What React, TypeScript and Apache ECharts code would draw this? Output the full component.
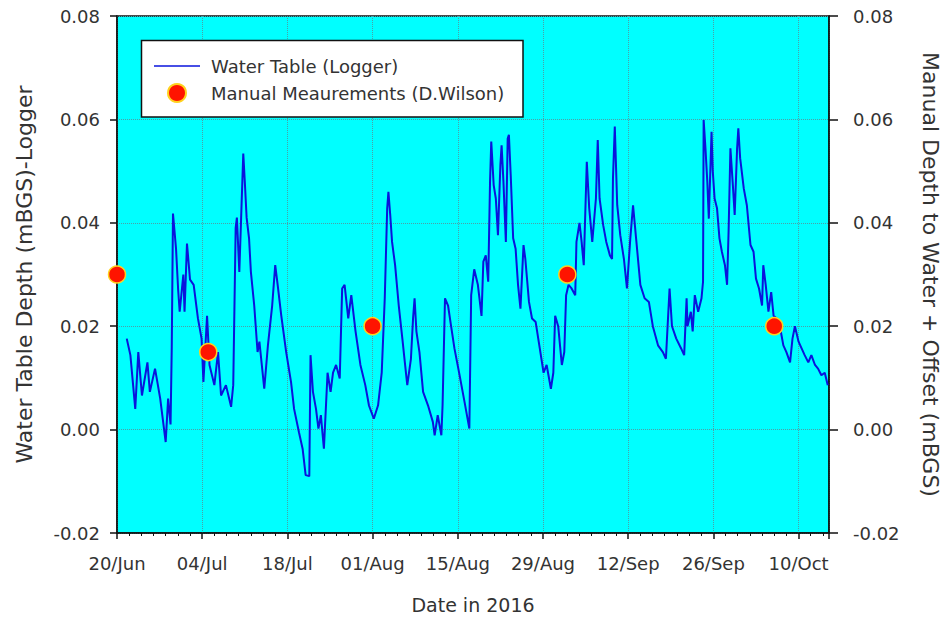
import React, { useEffect, useRef } from "react";
import * as echarts from "echarts";

// Days since 20 June 2016
const loggerDays = [
  1.6, 2.2, 3.0, 3.5, 4.1, 5.0, 5.4, 6.25, 7.1, 8.0, 8.4, 8.8, 9.0, 9.2, 9.7, 10.05, 10.3, 10.9, 11.1, 11.5,
  12.0, 12.6, 13.3, 13.9, 14.2, 14.8, 15.2, 16.0, 16.6, 17.1, 17.9, 18.75, 19.1, 19.5, 19.7, 20.1, 20.4, 20.75, 21.0, 21.3,
  21.7, 22.0, 22.55, 23.1, 23.4, 24.2, 24.8, 25.5, 26.0, 26.4, 27.0, 27.8, 28.6, 29.1, 29.9, 30.5, 31.0, 31.6, 31.8, 32.2,
  32.7, 33.1, 33.5, 34.0, 34.6, 35.1, 35.5, 36.0, 36.6, 37.0, 37.4, 38.0, 38.5, 39.2, 40.0, 40.8, 41.4, 42.2, 42.9, 43.5,
  44.0, 44.4, 44.6, 44.9, 45.2, 45.7, 46.3, 46.9, 47.3, 47.7, 48.3, 48.65, 48.9, 49.2, 49.7, 50.3, 51.1, 51.9, 52.2, 52.7,
  53.3, 53.5, 53.9, 54.4, 54.9, 55.45, 56.3, 57.1, 57.9, 58.2, 58.7, 59.3, 59.9, 60.2, 60.6, 61.0, 61.3, 61.5, 61.9, 62.25,
  62.6, 63.0, 63.2, 63.5, 63.9, 64.2, 64.4, 64.7, 65.1, 65.5, 65.9, 66.3, 66.8, 67.1, 67.7, 68.2, 68.8, 69.3, 70.1, 70.6,
  71.3, 71.7, 72.0, 72.5, 73.1, 73.5, 73.8, 74.2, 74.7, 75.3, 75.5, 76.0, 76.35, 76.7, 77.2, 77.6, 78.1, 78.7, 79.0, 79.3,
  79.9, 80.4, 81.0, 81.35, 81.5, 81.8, 82.2, 82.7, 83.3, 83.8, 84.35, 84.8, 85.3, 86.0, 86.7, 87.4, 88.05, 88.9, 89.7, 90.2,
  90.8, 91.2, 91.9, 92.7, 93.2, 93.6, 93.75, 94.3, 94.6, 94.95, 95.5, 96.05, 96.3, 96.4, 96.7, 97.0, 97.25, 97.7, 97.9, 98.2,
  98.6, 99.0, 99.4, 99.9, 100.25, 100.5, 100.8, 101.2, 101.5, 101.9, 102.1, 102.4, 103.0, 103.5, 104.1, 104.6, 105.0, 105.5, 106.0, 106.2,
  106.6, 107.05, 107.5, 107.9, 108.4, 109.0, 109.5, 110.0, 110.6, 111.0, 111.4, 112.0, 112.5, 113.0, 113.6, 114.1, 114.7, 115.2, 115.75, 116.3,
  116.8,
];

const loggerDepths = [
  0.0176, 0.0144, 0.004, 0.015, 0.0066, 0.013, 0.0073, 0.0118, 0.006, -0.0024, 0.006, 0.001, 0.016, 0.0418, 0.035, 0.027, 0.0228, 0.03, 0.0228, 0.036,
  0.029, 0.028, 0.0215, 0.0176, 0.0092, 0.022, 0.0125, 0.0086, 0.015, 0.0066, 0.0086, 0.0044, 0.0086, 0.039, 0.041, 0.0305, 0.041, 0.0534, 0.048, 0.041,
  0.037, 0.0305, 0.024, 0.015, 0.017, 0.0079, 0.0163, 0.024, 0.0318, 0.028, 0.022, 0.015, 0.0092, 0.004, -0.0005, -0.0037, -0.0088, -0.009, 0.0144, 0.0073,
  0.004, 0.0002, 0.0028, -0.0037, 0.011, 0.0073, 0.011, 0.0125, 0.0099, 0.0273, 0.028, 0.0215, 0.026, 0.019, 0.0125, 0.0086, 0.0047, 0.0021, 0.0047, 0.011,
  0.0254, 0.0428, 0.046, 0.0415, 0.0363, 0.0318, 0.024, 0.0175, 0.013, 0.0086, 0.0137, 0.0215, 0.0254, 0.019, 0.015, 0.0073, 0.0047, 0.0015, -0.0011, 0.0028,
  -0.0011, 0.0047, 0.0254, 0.024, 0.02, 0.0157, 0.0105, 0.0054, 0.0002, 0.026, 0.031, 0.028, 0.022, 0.0325, 0.0337, 0.0286, 0.048, 0.0557, 0.0473, 0.0447,
  0.0376, 0.0512, 0.055, 0.048, 0.0363, 0.0563, 0.057, 0.0492, 0.037, 0.035, 0.028, 0.0234, 0.0357, 0.033, 0.0247, 0.0215, 0.0208, 0.017, 0.011, 0.0125,
  0.0079, 0.011, 0.022, 0.02, 0.0125, 0.015, 0.026, 0.028, 0.0273, 0.026, 0.0363, 0.04, 0.0363, 0.0318, 0.0518, 0.0428, 0.0363, 0.0447, 0.056, 0.0447,
  0.0395, 0.0363, 0.0337, 0.033, 0.0486, 0.0586, 0.0434, 0.0376, 0.033, 0.0273, 0.037, 0.0434, 0.037, 0.028, 0.0254, 0.0247, 0.02, 0.0163, 0.015, 0.0137,
  0.0273, 0.02, 0.0176, 0.0157, 0.0144, 0.0254, 0.02, 0.0228, 0.019, 0.026, 0.0228, 0.0254, 0.0286, 0.0599, 0.0544, 0.048, 0.0408, 0.0576, 0.05, 0.0447,
  0.0428, 0.037, 0.0344, 0.0318, 0.028, 0.0383, 0.0544, 0.0473, 0.0415, 0.0544, 0.0583, 0.0525, 0.0466, 0.0434, 0.0357, 0.0344, 0.0292, 0.0273, 0.024, 0.0318,
  0.028, 0.0228, 0.0266, 0.022, 0.0215, 0.0195, 0.0163, 0.015, 0.013, 0.0176, 0.02, 0.017, 0.0157, 0.0144, 0.013, 0.0144, 0.0125, 0.0118, 0.0105, 0.011,
  0.0086,
];

const manualDays = [0, 15, 42, 74, 108];
const manualDepths = [0.03, 0.015, 0.02, 0.03, 0.02];

const yTickValues = [-0.02, 0.0, 0.02, 0.04, 0.06, 0.08];
const MONTHS = ["Jan", "Feb", "Mar", "Apr", "May", "Jun", "Jul", "Aug", "Sep", "Oct", "Nov", "Dec"];
const BASE_DATE = Date.UTC(2016, 5, 20);

const seriesNames = ["Water Table (Logger)", "Manual Meaurements (D.Wilson)"];
const axisNames = {
  x: "Date in 2016",
  yLeft: "Water Table Depth (mBGS)-Logger",
  yRight: "Manual Depth to Water + Offset (mBGS)",
};

const FONT = "DejaVu Sans";

function dayLabel(v: number): string {
  const d = new Date(BASE_DATE + Math.round(v) * 86400000);
  return String(d.getUTCDate()).padStart(2, "0") + "/" + MONTHS[d.getUTCMonth()];
}

function yLabel(v: number): string {
  const n = Math.abs(v) < 1e-9 ? 0 : v;
  return n.toFixed(2);
}

export default function App() {
  const ref = useRef<HTMLDivElement>(null);

  useEffect(() => {
    if (!ref.current) return;
    const chart = echarts.init(ref.current, undefined, { renderer: "svg" });
    const yMin = yTickValues[0];
    const yMax = yTickValues[yTickValues.length - 1];

    const yAxisCommon = {
      type: "value" as const,
      min: yMin,
      max: yMax,
      interval: 0.02,
      axisLine: { show: true, lineStyle: { color: "#111", width: 1.5 } },
      nameLocation: "middle" as const,
      nameTextStyle: { fontFamily: FONT, fontSize: 22, color: "#333" },
    };

    chart.setOption({
      animation: false,
      backgroundColor: "#ffffff",
      grid: {
        left: 117,
        right: 116,
        top: 16,
        bottom: 86,
        show: true,
        backgroundColor: "#00ffff",
        borderColor: "#111",
        borderWidth: 1.5,
      },
      xAxis: {
        type: "value",
        min: 0,
        max: 117,
        interval: 14,
        name: axisNames.x,
        nameLocation: "middle",
        nameGap: 62,
        nameTextStyle: { fontFamily: FONT, fontSize: 19, color: "#333" },
        axisLine: { show: true, onZero: false, lineStyle: { color: "#111", width: 1.5 } },
        axisTick: { show: true, inside: false, length: 6, lineStyle: { color: "#111", width: 1.5 } },
        minorTick: { show: true, splitNumber: 7, length: 3, lineStyle: { color: "#111", width: 1 } },
        axisLabel: {
          formatter: dayLabel,
          margin: 21,
          showMaxLabel: false,
          fontFamily: FONT,
          fontSize: 18,
          color: "#333",
        },
        splitLine: { show: true, lineStyle: { color: "#4d9fa6", type: "dotted", width: 1 } },
      },
      yAxis: [
        {
          ...yAxisCommon,
          position: "left",
          name: axisNames.yLeft,
          nameGap: 82,
          nameRotate: 90,
          axisTick: { show: true, inside: false, length: 7, lineStyle: { color: "#111", width: 1.5 } },
          axisLabel: { formatter: yLabel, margin: 17, fontFamily: FONT, fontSize: 18, color: "#333" },
          splitLine: { show: true, lineStyle: { color: "#4d9fa6", type: "dotted", width: 1 } },
        },
        {
          ...yAxisCommon,
          position: "right",
          name: axisNames.yRight,
          nameGap: 90,
          nameRotate: -90,
          axisTick: { show: true, inside: false, length: 9, lineStyle: { color: "#111", width: 1.5 } },
          axisLabel: { formatter: yLabel, margin: 24, fontFamily: FONT, fontSize: 18, color: "#333" },
          splitLine: { show: false },
        },
      ],
      legend: {
        orient: "vertical",
        left: 154,
        top: 57,
        padding: 0,
        itemWidth: 46,
        itemHeight: 18,
        itemGap: 8,
        z: 6,
        textStyle: { fontFamily: FONT, fontSize: 18, color: "#333", padding: [0, 0, 0, 6] },
        data: [
          { name: seriesNames[0], icon: "path://M0,0H46V1.6H0Z" },
          { name: seriesNames[1] },
        ],
      },
      graphic: [
        {
          type: "rect",
          z: 5,
          shape: { x: 141.5, y: 40.5, width: 381.5, height: 76.5 },
          style: { fill: "#ffffff", stroke: "#111", lineWidth: 1.5 },
        },
      ],
      series: [
        {
          name: seriesNames[0],
          type: "line",
          xAxisIndex: 0,
          yAxisIndex: 0,
          symbol: "none",
          showSymbol: false,
          lineStyle: { color: "#0a14dc", width: 2 },
          itemStyle: { color: "#0a14dc" },
          data: loggerDays.map((d, i) => [d, loggerDepths[i]]),
          z: 2,
        },
        {
          name: seriesNames[1],
          type: "scatter",
          xAxisIndex: 0,
          yAxisIndex: 1,
          symbol: "circle",
          symbolSize: 17,
          itemStyle: { color: "#ff1400", borderColor: "#ffd21e", borderWidth: 1.5, opacity: 1 },
          data: manualDays.map((d, i) => [d, manualDepths[i]]),
          z: 3,
        },
      ],
    });

    return () => chart.dispose();
  }, []);

  return (
    <div
      ref={ref}
      style={{ position: "fixed", left: 0, top: 0, width: 949, height: 619 }}
    />
  );
}
